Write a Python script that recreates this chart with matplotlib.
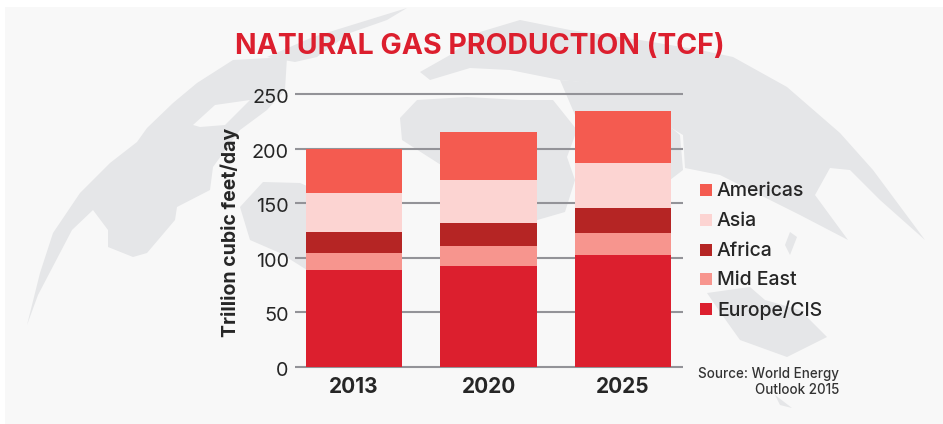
import matplotlib
matplotlib.use("Agg")
import matplotlib.pyplot as plt
from matplotlib.patches import Polygon, Rectangle
from matplotlib.transforms import ScaledTranslation

W, H = 943, 424

years = ["2013", "2020", "2025"]
europe = [89, 92.5, 102.5]
mid_east = [15.5, 18.5, 20]
africa = [19, 21, 23]
asia = [36, 39, 41]
americas = [40, 44, 48]
yticks = [0, 50, 100, 150, 200, 250]

series = [
    ("Europe/CIS", europe, "#dc1f2e"),
    ("Mid East", mid_east, "#f7958e"),
    ("Africa", africa, "#b52524"),
    ("Asia", asia, "#fcd4d2"),
    ("Americas", americas, "#f45b50"),
]

# rough outline of the world map behind the chart, in pixels
land = [
    # north america
    [(27, 325), (40, 273), (53, 233), (80, 193), (110, 163), (137, 142), (147, 128), (173, 103), (197, 83),
     (233, 60), (287, 57), (285, 90), (267, 110), (240, 130), (213, 167), (210, 190), (177, 207), (175, 220),
     (147, 253), (133, 257), (108, 247), (108, 230), (93, 210), (72, 230), (38, 295)],
    # greenland
    [(267, 57), (313, 37), (407, 8), (387, 20), (350, 33), (317, 57), (295, 62)],
    # south america
    [(240, 207), (263, 182), (300, 183), (340, 200), (340, 275), (307, 270), (280, 253), (250, 240)],
    # eurasia
    [(420, 72), (450, 55), (480, 32), (520, 20), (570, 30), (640, 40), (700, 50), (733, 57), (787, 87),
     (840, 133), (873, 170), (925, 240), (880, 200), (850, 170), (830, 168), (815, 195), (848, 240),
     (800, 215), (770, 200), (720, 175), (685, 168), (683, 135), (650, 115), (610, 85), (560, 80),
     (510, 70), (470, 68), (430, 80)],
    # middle east and india
    [(560, 80), (620, 85), (680, 135), (683, 170), (670, 180), (640, 150), (600, 115), (575, 115)],
    # africa
    [(400, 118), (417, 100), (467, 97), (520, 100), (553, 100), (577, 130), (567, 157), (575, 180),
     (565, 212), (520, 225), (480, 200), (441, 165), (402, 140)],
    # islands
    [(790, 232), (797, 237), (790, 255), (785, 245)],
    # australia
    [(707, 293), (750, 287), (765, 300), (800, 310), (827, 337), (787, 357), (740, 340), (720, 312)],
    [(775, 395), (792, 408), (780, 405)],
]
hudson_bay = [(193, 125), (215, 105), (250, 100), (225, 125), (200, 127)]

plt.rcParams["font.family"] = ["Inter", "DejaVu Sans"]

fig = plt.figure(figsize=(W / 100, H / 100), dpi=100, facecolor="white")

bg = fig.add_axes([0, 0, 1, 1])
bg.set_xlim(0, W)
bg.set_ylim(H, 0)
bg.axis("off")
bg.add_patch(Rectangle((5, 7), W - 5, H - 7, color="#f8f8f8", lw=0))
for shape in land:
    bg.add_patch(Polygon(shape, closed=True, color="#e5e6e8", lw=0))
bg.add_patch(Polygon(hudson_bay, closed=True, color="#f8f8f8", lw=0))

# axes box lines up with the gridlines, 295-683 px wide
ax = fig.add_axes([295 / W, 1 - 367 / H, 388 / W, 273 / H])
ax.patch.set_alpha(0)
x = range(len(years))
bottom = [0, 0, 0]
for name, vals, col in series:
    ax.bar(x, vals, 0.714, bottom=bottom, color=col, zorder=3)
    bottom = [b + v for b, v in zip(bottom, vals)]

ax.set_xlim(-0.4387, 2.4461)
ax.set_ylim(0, 250)
ax.set_yticks(yticks)
ax.set_xticks(list(x))
ax.set_xticklabels(years, fontsize=15, fontweight="bold", color="#262626")
ax.tick_params(axis="x", length=0, pad=7)
ax.tick_params(axis="y", length=0, pad=4.5, labelsize=14.3, labelcolor="#262626")
ax.grid(axis="y", color="#939398", lw=1.5, zorder=1, solid_capstyle="butt")
ax.set_axisbelow(True)
for s in ax.spines.values():
    s.set_visible(False)
for gl in ax.get_ygridlines():
    gl.set_clip_on(False)
# tick labels sit a little under their lines in the original
shift = ScaledTranslation(0, -1.5 / 72, fig.dpi_scale_trans)
for lab in ax.get_yticklabels():
    lab.set_transform(lab.get_transform() + shift)

bg.text(230, 232, "Trillion cubic feet/day", fontsize=14, fontweight="bold", color="#262626",
        rotation=90, ha="center", va="center")

fig.text(480 / W, 1 - 47 / H, "NATURAL GAS PRODUCTION (TCF)", color="#dc1f2e", fontsize=20.5,
         fontweight="bold", ha="center", va="center")

for i, (name, vals, col) in enumerate(reversed(series)):
    yp = 190 + i * 29.75
    bg.add_patch(Rectangle((700, yp - 6), 12, 12, color=col, lw=0))
    bg.text(717, yp + 1, name, fontsize=14, fontweight="medium", color="#262626", va="center")

bg.text(839, 374, "Source: World Energy", fontsize=9.65, fontweight="medium", color="#333333", ha="right", va="center")
bg.text(839, 390, "Outlook 2015", fontsize=9.65, fontweight="medium", color="#333333", ha="right", va="center")

fig.savefig("out.png", dpi=100)
